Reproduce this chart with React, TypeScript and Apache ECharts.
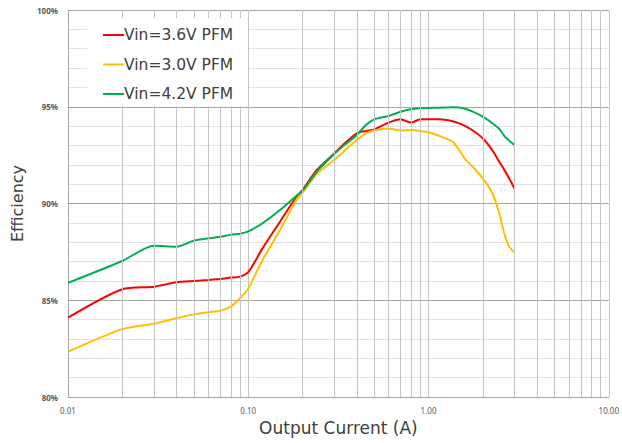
import React, { useEffect, useRef } from "react";
import * as echarts from "echarts";

const currents = [0.01, 0.02, 0.03, 0.04, 0.05, 0.06, 0.07, 0.08, 0.09, 0.1, 0.12, 0.15, 0.185, 0.2, 0.24, 0.3, 0.35, 0.4, 0.45, 0.5, 0.6, 0.7, 0.8, 0.9, 1.0, 1.15, 1.36, 1.48, 1.61, 1.76, 2.0, 2.26, 2.47, 2.63, 2.8, 3.0];

const eff36 = [84.1, 85.57, 85.7, 85.93, 86.0, 86.05, 86.1, 86.17, 86.22, 86.45, 87.68, 89.06, 90.35, 90.7, 91.73, 92.59, 93.19, 93.63, 93.75, 93.83, 94.18, 94.35, 94.18, 94.35, 94.35, 94.35, 94.25, 94.14, 93.98, 93.77, 93.37, 92.75, 92.15, 91.75, 91.3, 90.78];
const eff30 = [82.34, 83.51, 83.79, 84.07, 84.27, 84.38, 84.46, 84.67, 85.1, 85.6, 87.08, 88.63, 90.18, 90.55, 91.52, 92.25, 92.8, 93.28, 93.63, 93.77, 93.88, 93.77, 93.8, 93.75, 93.68, 93.49, 93.2, 92.76, 92.25, 91.9, 91.3, 90.53, 89.49, 88.46, 87.77, 87.46];
const eff42 = [85.9, 87.03, 87.82, 87.77, 88.08, 88.2, 88.28, 88.39, 88.44, 88.56, 88.98, 89.66, 90.4, 90.65, 91.64, 92.56, 93.1, 93.54, 94.06, 94.35, 94.52, 94.74, 94.87, 94.92, 94.94, 94.95, 94.97, 94.96, 94.88, 94.75, 94.49, 94.15, 93.85, 93.5, 93.25, 93.02];

const seriesNames = ["Vin=3.6V PFM", "Vin=3.0V PFM", "Vin=4.2V PFM"];
const seriesColors = ["#ff0000", "#ffc000", "#00b050"];
const seriesValues = [eff36, eff30, eff42];

const minorXLines = [0.02, 0.03, 0.04, 0.05, 0.06, 0.07, 0.08, 0.09, 0.2, 0.3, 0.4, 0.5, 0.6, 0.7, 0.8, 0.9, 2, 3, 4, 5, 6, 7, 8, 9];

const xMin = 0.01;
const xMax = 10;
const yMin = 80;
const yMax = 100;
const yStep = 5;

export default function App() {
  const ref = useRef<HTMLDivElement>(null);
  useEffect(() => {
    if (!ref.current) return;
    const chart = echarts.init(ref.current, null, { renderer: "svg" });
    const font = "DejaVu Sans";
    chart.setOption({
      animation: false,
      backgroundColor: "#ffffff",
      grid: { left: 68, right: 12, top: 10, bottom: 46, containLabel: false },
      legend: {
        data: seriesNames,
        orient: "vertical",
        left: 87,
        top: 18,
        backgroundColor: "#ffffff",
        padding: [9, 14, 4, 16],
        icon: "rect",
        itemWidth: 21,
        itemHeight: 2,
        itemGap: 13.5,
        textStyle: {
          fontSize: 15.5,
          color: "#404040",
          fontFamily: font,
          padding: [0, 0, 0, -5],
        },
        z: 10,
      },
      xAxis: {
        type: "log",
        logBase: 10,
        min: xMin,
        max: xMax,
        axisLine: { show: true, lineStyle: { color: "#a6a6a6", width: 1 } },
        axisTick: { show: false },
        axisLabel: {
          fontSize: 8,
          color: "#595959",
          margin: 9,
          fontFamily: "Noto Sans",
          formatter: (v: number) => v.toFixed(2),
        },
        splitLine: { show: true, lineStyle: { color: "#c4c4c4", width: 1 } },
        name: "Output Current (A)",
        nameLocation: "middle",
        nameGap: 22,
        nameTextStyle: { fontSize: 17, color: "#404040", fontFamily: font },
      },
      yAxis: {
        type: "value",
        min: yMin,
        max: yMax,
        interval: yStep,
        axisLine: { show: true, lineStyle: { color: "#a6a6a6", width: 1 } },
        axisTick: { show: false },
        axisLabel: {
          fontSize: 8,
          fontWeight: "bold",
          color: "#595959",
          margin: 10,
          fontFamily: "Noto Sans",
          formatter: (v: number) => `${v}%`,
        },
        splitLine: { show: true, lineStyle: { color: "#a6a6a6", width: 1 } },
        minorTick: { show: false, splitNumber: 5 },
        minorSplitLine: { show: true, lineStyle: { color: "#e2e2e2", width: 1 } },
        name: "Efficiency",
        nameLocation: "middle",
        nameGap: 43,
        nameTextStyle: { fontSize: 16, color: "#404040", fontFamily: font },
      },
      series: [
        {
          name: "minor-grid",
          type: "line",
          data: [],
          z: 1,
          silent: true,
          markLine: {
            silent: true,
            symbol: "none",
            label: { show: false },
            emphasis: { disabled: true },
            lineStyle: { color: "#c4c4c4", type: "solid", width: 1 },
            data: minorXLines.map((v) => ({ xAxis: v })),
          },
        },
        ...seriesNames.map((name, i) => ({
          name,
          type: "line",
          z: 3,
          symbol: "none",
          showSymbol: false,
          smooth: 0.25,
          lineStyle: { color: seriesColors[i], width: 2 },
          itemStyle: { color: seriesColors[i] },
          data: currents.map((c, j) => [c, seriesValues[i][j]]),
        })),
      ],
    });
    return () => chart.dispose();
  }, []);
  return (
    <div
      ref={ref}
      style={{ position: "fixed", left: 0, top: 0, width: 622, height: 443 }}
    />
  );
}
